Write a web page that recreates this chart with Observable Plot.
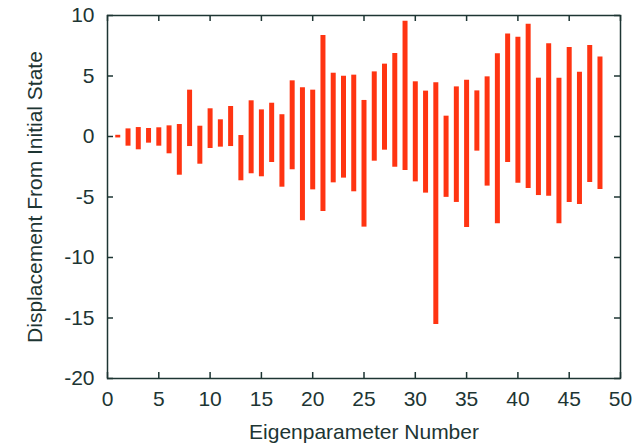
<!DOCTYPE html>
<html>
<head>
<meta charset="utf-8">
<script src="https://cdn.jsdelivr.net/npm/d3@7"></script>
<script src="https://cdn.jsdelivr.net/npm/@observablehq/plot@0.6"></script>
<style>
  html, body { margin: 0; padding: 0; background: #fff; }
  #chart { width: 640px; height: 445px; }
</style>
</head>
<body>
<div id="chart"></div>
<script>
const eigenNumbers = d3.range(1, 49);
const highValues = [0.10, 0.63, 0.74, 0.66, 0.72, 0.88, 0.99, 3.83, 0.85, 2.29,
  1.38, 2.48, 0.08, 2.95, 2.20, 2.75, 1.80, 4.60, 4.02, 3.83,
  8.35, 5.23, 4.98, 5.07, 2.98, 5.34, 5.98, 6.86, 9.53, 4.52,
  3.75, 4.44, 1.68, 4.10, 4.65, 3.77, 4.93, 6.83, 8.48, 8.21,
  9.28, 4.82, 7.66, 4.82, 7.36, 5.32, 7.52, 6.56];
const lowValues = [-0.12, -0.80, -1.10, -0.55, -0.80, -1.43, -3.20, -0.83, -2.29, -0.99,
  -0.88, -0.83, -3.66, -3.08, -3.33, -2.15, -4.19, -2.75, -6.97, -4.41,
  -6.20, -3.83, -3.44, -4.57, -7.49, -2.04, -1.13, -2.54, -2.81, -3.75,
  -4.68, -15.54, -5.03, -5.45, -7.52, -1.21, -4.10, -7.22, -2.15, -3.86,
  -4.30, -4.88, -4.93, -7.22, -5.45, -5.62, -3.80, -4.38];
const xTicks = [0, 5, 10, 15, 20, 25, 30, 35, 40, 45, 50];
const yTicks = [-20, -15, -10, -5, 0, 5, 10];

const rows = eigenNumbers.map((n, i) => ({n, lo: lowValues[i], hi: highValues[i]}));

const ink = "#1d3533";
const barColor = "#ff3412";
const W = 640, H = 445, mL = 107, mR = 20, mT = 15, mB = 67;
const plotW = W - mL - mR, plotH = H - mT - mB, tick = 6;
const fmt = d => String(d);

const chart = Plot.plot({
  width: W,
  height: H,
  marginLeft: mL,
  marginRight: mR,
  marginTop: mT,
  marginBottom: mB,
  style: {fontFamily: "'Liberation Sans', Arial, sans-serif", fontSize: "21px", color: ink, background: "#fff"},
  x: {domain: [0, 50]},
  y: {domain: [-20, 10]},
  marks: [
    Plot.ruleX(rows, {x: "n", y1: "lo", y2: "hi", stroke: barColor, strokeWidth: 5}),
    Plot.tickX(xTicks, {x: d => d, insetTop: plotH - tick, stroke: ink, strokeWidth: 1.5}),
    Plot.tickX(xTicks, {x: d => d, insetBottom: plotH - tick, stroke: ink, strokeWidth: 1.5}),
    Plot.tickY(yTicks, {y: d => d, insetRight: plotW - tick, stroke: ink, strokeWidth: 1.5}),
    Plot.tickY(yTicks, {y: d => d, insetLeft: plotW - tick, stroke: ink, strokeWidth: 1.5}),
    Plot.frame({stroke: ink, strokeWidth: 1.5}),
    Plot.axisX(xTicks, {anchor: "bottom", tickSize: 0, tickPadding: 13, tickFormat: fmt, label: "Eigenparameter Number", labelAnchor: "center", labelOffset: 60, labelArrow: "none", fill: ink, fontSize: 21}),
    Plot.axisY(yTicks, {anchor: "left", tickSize: 0, tickPadding: 13, tickFormat: fmt, label: "Displacement From Initial State", labelAnchor: "center", labelOffset: 80, labelArrow: "none", fill: ink, fontSize: 21})
  ]
});
document.getElementById("chart").appendChild(chart);
</script>
</body>
</html>
